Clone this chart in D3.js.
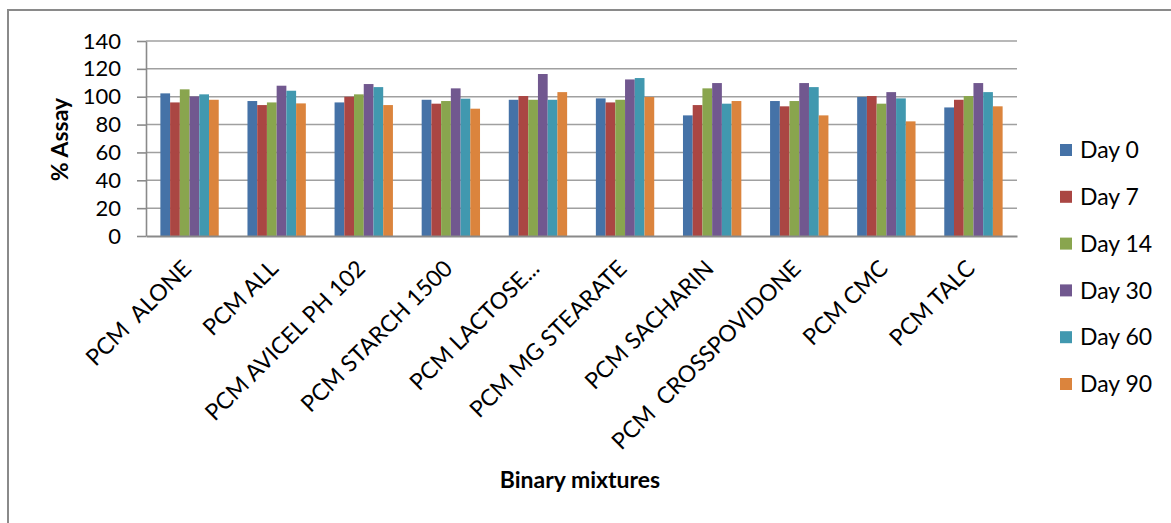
<!DOCTYPE html>
<html>
<head>
<meta charset="utf-8">
<script src="https://cdn.jsdelivr.net/npm/d3@7/dist/d3.min.js"></script>
<style>
  html, body { margin: 0; padding: 0; background: #fff; }
  svg { display: block; font-family: Lato, "Open Sans", sans-serif; }
</style>
</head>
<body>
<svg id="chart" width="1171" height="523"></svg>
<script>
// Binary mixtures stability: % assay of paracetamol over 90 days
const categories = [
  "PCM  ALONE", "PCM ALL", "PCM AVICEL PH 102", "PCM STARCH 1500", "PCM LACTOSE...",
  "PCM MG STEARATE", "PCM SACHARIN", "PCM  CROSSPOVIDONE", "PCM CMC", "PCM TALC"
];
const seriesNames = ["Day 0", "Day 7", "Day 14", "Day 30", "Day 60", "Day 90"];

const day0  = [102.4, 96.9, 95.9, 97.8, 97.8, 98.8, 86.6, 96.9, 99.8, 92.3];
const day7  = [95.9, 94.0, 100.0, 95.0, 100.5, 95.9, 94.0, 93.1, 100.5, 97.8];
const day14 = [105.3, 95.9, 101.7, 96.9, 97.8, 97.8, 106.0, 96.9, 95.0, 100.5];
const day30 = [100.2, 107.9, 109.1, 106.0, 116.3, 112.4, 109.8, 109.8, 103.3, 109.8];
const day60 = [101.7, 104.3, 106.9, 98.6, 97.8, 113.4, 95.0, 106.9, 98.8, 103.3];
const day90 = [97.8, 95.2, 94.0, 91.4, 103.3, 99.8, 96.9, 86.6, 82.3, 93.1];

const yTicks = [0, 20, 40, 60, 80, 100, 120, 140];
const colors = ["#4572A7", "#AA4643", "#89A54E", "#71588F", "#4198AF", "#DB843D"];

const seriesValues = [day0, day7, day14, day30, day60, day90];

const svg = d3.select("#chart");

// outer chart frame
svg.append("rect")
  .attr("x", 8).attr("y", 10)
  .attr("width", 1180).attr("height", 530)
  .attr("fill", "#fff")
  .attr("stroke", "#8a8a8a")
  .attr("stroke-width", 2);

const plot = { left: 146, right: 1017, top: 41, bottom: 236 };

const x = d3.scaleBand()
  .domain(categories)
  .range([plot.left, plot.right])
  .paddingInner(0).paddingOuter(0);

const bw = x.bandwidth();
const xs = d3.scaleBand()
  .domain(seriesNames)
  .range([bw * 0.165, bw * 0.835]);

const y = d3.scaleLinear().domain([0, 140]).range([plot.bottom, plot.top]);

// horizontal gridlines
svg.append("g")
  .selectAll("line")
  .data(yTicks.filter(t => t > 0))
  .join("line")
  .attr("x1", plot.left).attr("x2", plot.right)
  .attr("y1", d => y(d)).attr("y2", d => y(d))
  .attr("stroke", "#a0a0a0")
  .attr("stroke-width", 1.5);

// bars
const groups = svg.append("g")
  .selectAll("g")
  .data(categories)
  .join("g")
  .attr("transform", d => `translate(${x(d)},0)`);

groups.selectAll("rect")
  .data((c, ci) => seriesNames.map((s, si) => ({ s, si, v: seriesValues[si][ci] })))
  .join("rect")
  .attr("x", d => xs(d.s))
  .attr("width", xs.bandwidth())
  .attr("y", d => y(d.v))
  .attr("height", d => y(0) - y(d.v))
  .attr("fill", d => colors[d.si]);

// y axis
const yAxis = svg.append("g")
  .attr("transform", `translate(${plot.left},0)`)
  .call(d3.axisLeft(y).tickValues(yTicks).tickSize(9).tickPadding(16).tickSizeOuter(0));
yAxis.select(".domain").attr("stroke", "#8a8a8a").attr("stroke-width", 1.6);
yAxis.selectAll(".tick line").attr("stroke", "#8a8a8a").attr("stroke-width", 1.6);
yAxis.selectAll(".tick text")
  .attr("font-size", 22)
  .attr("font-family", "Lato, sans-serif")
  .attr("fill", "#000");

// x axis line and rotated category labels
const xAxis = svg.append("g")
  .attr("transform", `translate(0,${plot.bottom})`)
  .call(d3.axisBottom(x).tickSize(0).tickSizeOuter(0).tickPadding(0));
xAxis.select(".domain").attr("stroke", "#8a8a8a").attr("stroke-width", 1.8);
xAxis.selectAll(".tick text")
  .attr("font-size", 23)
  .attr("font-family", "Lato, sans-serif")
  .attr("fill", "#000")
  .style("white-space", "pre")
  .attr("text-anchor", "end")
  .attr("dy", 0)
  .attr("y", 0)
  .attr("transform", "translate(3,34) rotate(-45)");

// axis titles
svg.append("text")
  .attr("transform", `translate(68,${(plot.top + plot.bottom) / 2 + 1}) rotate(-90)`)
  .attr("text-anchor", "middle")
  .attr("font-size", 23)
  .attr("font-weight", "bold")
  .attr("fill", "#000")
  .text("% Assay");

svg.append("text")
  .attr("x", 580).attr("y", 488)
  .attr("text-anchor", "middle")
  .attr("font-size", 23)
  .attr("font-weight", "bold")
  .attr("fill", "#000")
  .text("Binary mixtures");

// legend
const legend = svg.append("g")
  .selectAll("g")
  .data(seriesNames)
  .join("g")
  .attr("transform", (d, i) => `translate(1060,${150 + i * 46.8})`);
legend.append("rect")
  .attr("x", 0).attr("y", -6)
  .attr("width", 12).attr("height", 12)
  .attr("fill", (d, i) => colors[i]);
legend.append("text")
  .attr("x", 20).attr("y", 0)
  .attr("dy", "0.36em")
  .attr("font-size", 23)
  .attr("fill", "#000")
  .text(d => d);
</script>
</body>
</html>
